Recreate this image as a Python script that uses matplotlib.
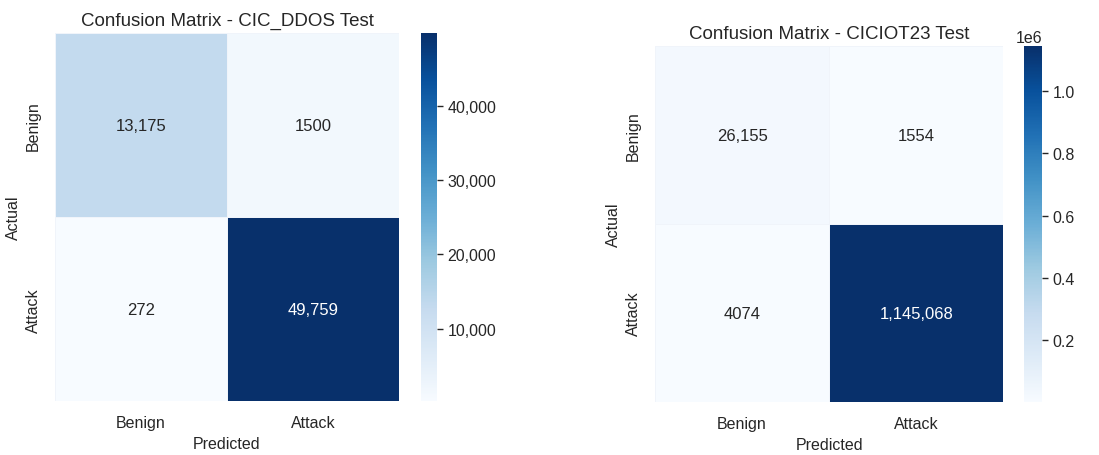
import numpy as np
import seaborn as sns
from matplotlib import pyplot as plt
from matplotlib.ticker import FuncFormatter

labels = ["Benign", "Attack"]
ddos_cm = [[13175, 1500], [272, 49759]]
ciciot_cm = [[26155, 1554], [4074, 1145068]]
titles = ["Confusion Matrix - CIC_DDOS Test", "Confusion Matrix - CICIOT23 Test"]

sns.set_theme(style="white")
plt.rcParams['font.family'] = ['Liberation Sans', 'DejaVu Sans']
plt.rcParams['text.color'] = '#262626'
plt.rcParams['axes.labelcolor'] = '#262626'
plt.rcParams['xtick.color'] = '#262626'
plt.rcParams['ytick.color'] = '#262626'


def fmt(v):
    # big counts with commas, small ones plain
    return f"{v:,}" if v >= 10000 else str(v)


fig = plt.figure(figsize=(10.99, 4.56), dpi=100)
ax1 = fig.add_axes([0.050, 0.118, 0.313, 0.807])
cax1 = fig.add_axes([0.383, 0.118, 0.0146, 0.807])
ax2 = fig.add_axes([0.596, 0.116, 0.317, 0.781])
cax2 = fig.add_axes([0.932, 0.116, 0.0164, 0.781])

for ax, cax, cm, title in [(ax1, cax1, ddos_cm, titles[0]), (ax2, cax2, ciciot_cm, titles[1])]:
    cm = np.array(cm)
    annot = np.array([[fmt(v) for v in row] for row in cm])
    sns.heatmap(cm, ax=ax, cbar_ax=cax, cmap="Blues", annot=annot, fmt="",
                annot_kws={"size": 12}, linewidths=0.4, linecolor="#f0f4fa",
                xticklabels=labels, yticklabels=labels)
    ax.set_title(title, fontsize=13.5)
    ax.set_xlabel("Predicted", fontsize=11.5)
    ax.set_ylabel("Actual", fontsize=11.5)
    ax.tick_params(labelsize=11.5, length=0)
    ax.tick_params(axis='x', pad=10)
    ax.tick_params(axis='y', pad=10)
    cax.tick_params(labelsize=11.5, length=4, width=1, right=True, color='#262626')

cax1.yaxis.set_major_formatter(FuncFormatter(lambda v, p: f"{int(v):,}"))
cax2.yaxis.get_offset_text().set_fontsize(11.5)

fig.savefig("out.png", dpi=100)
